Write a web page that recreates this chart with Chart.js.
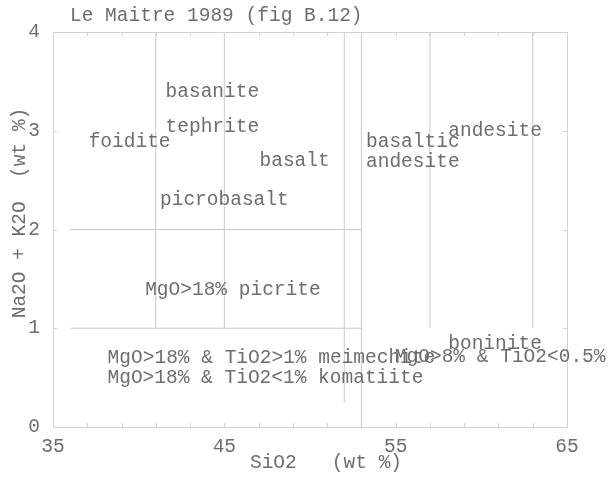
<!DOCTYPE html>
<html>
<head>
<meta charset="utf-8">
<script src="https://cdn.jsdelivr.net/npm/chart.js@4"></script>
<style>
  body { margin: 0; background: #fff; }
  canvas { display: block; }
</style>
</head>
<body>
<canvas id="tas" width="613" height="477"></canvas>
<script>
// Le Maitre 1989 (fig B.12) - TAS, high-Mg volcanic rocks
const xLabels = [35, 45, 55, 65];
const yLabels = [0, 1, 2, 3, 4];

// boundary segments (SiO2, Na2O+K2O)
const segX1 = [41, 45, 52, 53, 57, 63, 36, 36];
const segY1 = [1, 1, 0.25, 0, 1, 1, 2, 1];
const segX2 = [41, 45, 52, 53, 57, 63, 53, 53];
const segY2 = [4, 4, 4, 4, 4, 4, 2, 1];

// field names and where they sit
const fieldNames = [
  "foidite", "basanite", "tephrite", "basalt", "picrobasalt",
  "basaltic\nandesite", "andesite", "MgO>18% picrite",
  "MgO>18% & TiO2>1% meimechite", "MgO>18% & TiO2<1% komatiite",
  "boninite", "MgO>8% & TiO2<0.5%"
];
const fieldX = [39.47, 44.3, 44.3, 49.1, 45.0, 56.0, 60.8, 45.5, 47.75, 47.4, 60.8, 61.1];
const fieldY = [2.89, 3.39, 3.04, 2.70, 2.30, 2.79, 3.0, 1.39, 0.70, 0.50, 0.84, 0.71];

const MONO = '"Liberation Mono", "DejaVu Sans Mono", monospace';
const TXT = "#6e6e6e";

// frame, inward ticks, field names and titles
const decor = {
  id: "decor",
  afterDraw(chart) {
    const { ctx, chartArea: a, scales: { x, y } } = chart;
    ctx.save();
    ctx.strokeStyle = "#d2d2d2";
    ctx.lineWidth = 1;
    ctx.strokeRect(Math.round(a.left) + 0.5, Math.round(a.top) + 0.5, Math.round(a.right - a.left), Math.round(a.bottom - a.top));

    ctx.beginPath();
    x.ticks.forEach(t => {
      const px = Math.round(x.getPixelForValue(t.value)) + 0.5;
      ctx.moveTo(px, a.bottom); ctx.lineTo(px, a.bottom - 4);
      ctx.moveTo(px, a.top); ctx.lineTo(px, a.top + 4);
    });
    y.ticks.forEach(t => {
      const py = Math.round(y.getPixelForValue(t.value)) + 0.5;
      ctx.moveTo(a.left, py); ctx.lineTo(a.left + 4, py);
      ctx.moveTo(a.right, py); ctx.lineTo(a.right - 4, py);
    });
    ctx.stroke();

    ctx.font = "19.5px " + MONO;
    ctx.fillStyle = TXT;
    ctx.textAlign = "center";
    ctx.textBaseline = "middle";
    fieldNames.forEach((name, i) => {
      const lines = name.split("\n");
      const px = x.getPixelForValue(fieldX[i]);
      const py = y.getPixelForValue(fieldY[i]);
      lines.forEach((ln, j) => ctx.fillText(ln, px, py + (j - (lines.length - 1) / 2) * 20));
    });

    ctx.textAlign = "left";
    ctx.fillText("Le Maitre 1989 (fig B.12)", 70, 16);
    ctx.textAlign = "center";
    ctx.fillText("SiO2   (wt %)", 326, 463);
    ctx.translate(20, 213);
    ctx.rotate(-Math.PI / 2);
    ctx.fillText("Na2O + K2O  (wt %)", 0, 0);
    ctx.restore();
  }
};

new Chart(document.getElementById("tas"), {
  type: "scatter",
  data: {
    datasets: segX1.map((x1, i) => ({
      type: "line",
      data: [{ x: x1, y: segY1[i] }, { x: segX2[i], y: segY2[i] }],
      borderColor: "#cacaca",
      borderWidth: 1,
      pointRadius: 0,
      fill: false
    }))
  },
  options: {
    responsive: false,
    animation: false,
    layout: { padding: { top: 32, right: 46, left: 0, bottom: 0 } },
    plugins: { legend: { display: false }, tooltip: { enabled: false } },
    scales: {
      x: {
        type: "linear", min: 35, max: 65,
        afterFit: s => { s.height = 50; },
        grid: { drawOnChartArea: false, drawTicks: false },
        border: { display: false },
        ticks: {
          stepSize: 2, autoSkip: false, maxRotation: 0, minRotation: 0, padding: 10,
          color: TXT, font: { family: MONO, size: 19.5, lineHeight: 1 },
          callback: v => xLabels.includes(v) ? String(v) : ""
        }
      },
      y: {
        type: "linear", min: 0, max: 4,
        afterFit: s => { s.width = 53; },
        grid: { drawOnChartArea: false, drawTicks: false },
        border: { display: false },
        ticks: {
          stepSize: 1, padding: 13,
          color: TXT, font: { family: MONO, size: 19.5, lineHeight: 1 },
          callback: v => yLabels.includes(v) ? String(v) : ""
        }
      }
    }
  },
  plugins: [decor]
});
</script>
</body>
</html>
